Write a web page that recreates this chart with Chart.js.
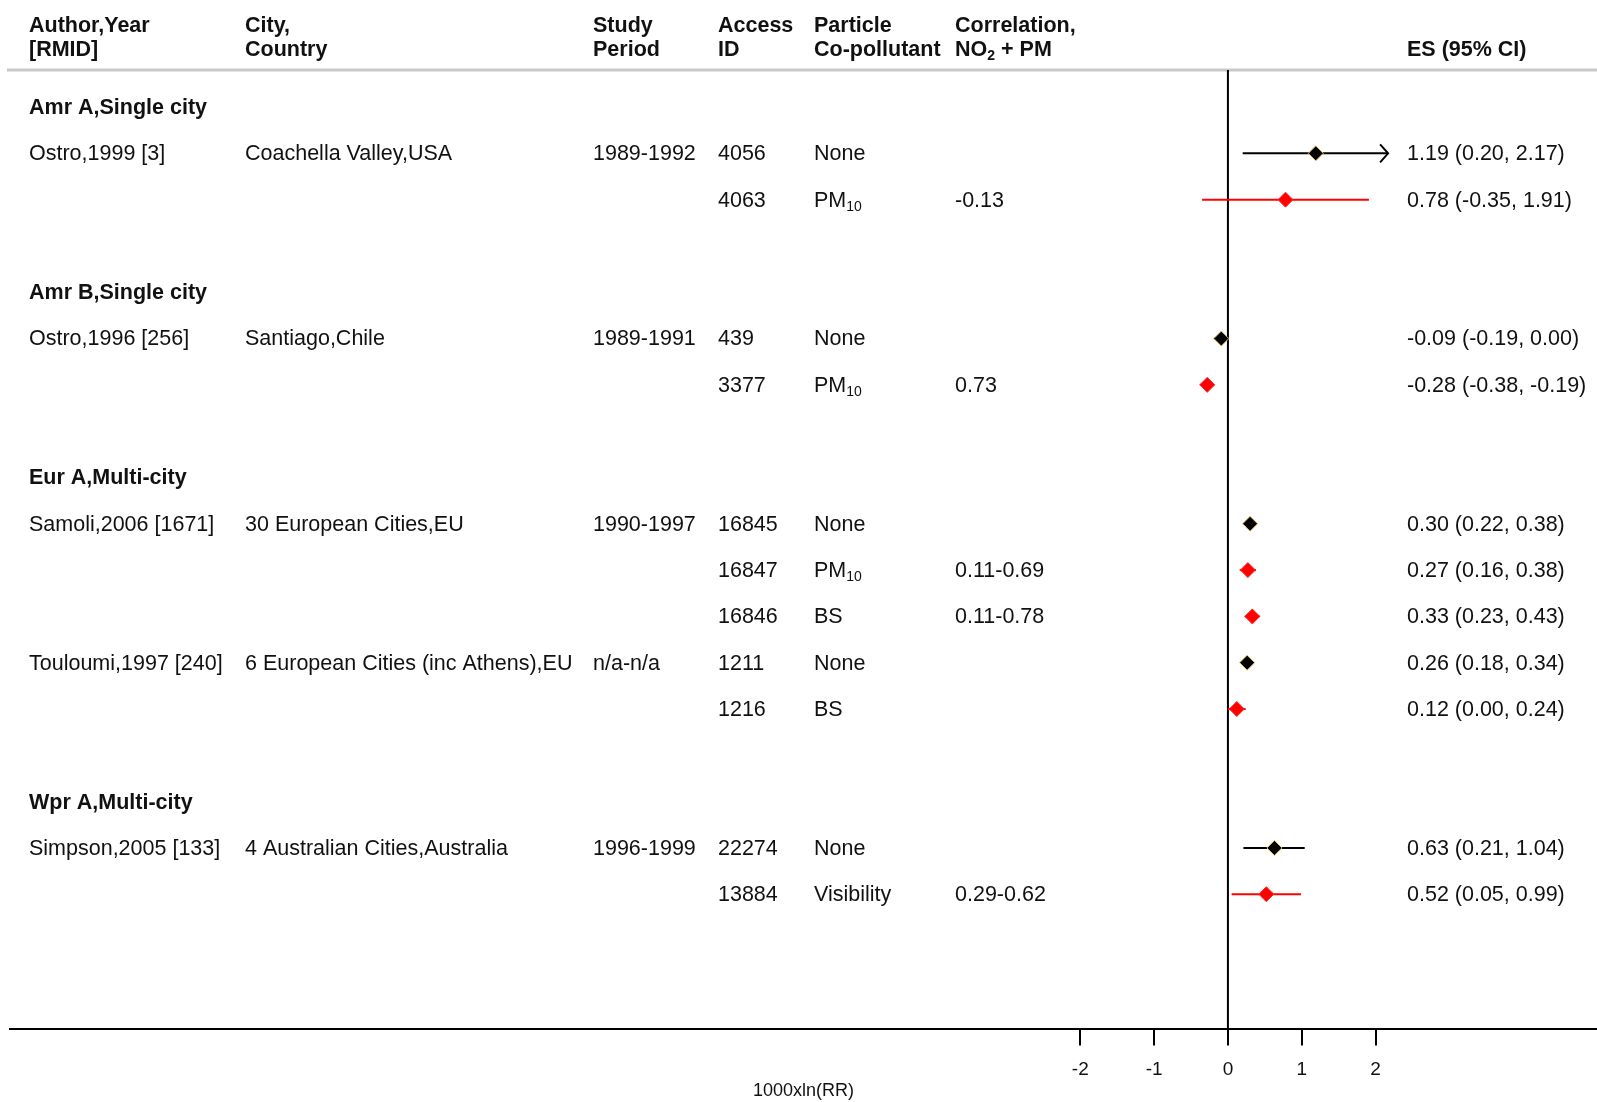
<!DOCTYPE html>
<html>
<head>
<meta charset="utf-8">
<title>Forest plot: NO2 effect estimates with and without particle co-pollutant</title>
<script src="https://cdn.jsdelivr.net/npm/chart.js@4.4.1/dist/chart.umd.min.js"></script>
<style>
  html, body { margin: 0; padding: 0; background: #fff; }
  canvas { display: block; }
</style>
</head>
<body>
<canvas id="forest" width="1597" height="1102"></canvas>
<script>
const FONT = "'Liberation Sans', Arial, Helvetica, sans-serif";

// Column headings (two lines each); "_{..}" marks a subscript
const headLine1 = ['Author,Year', 'City,', 'Study', 'Access', 'Particle', 'Correlation,', ''];
const headLine2 = ['[RMID]', 'Country', 'Period', 'ID', 'Co-pollutant', 'NO_{2} + PM', 'ES (95% CI)'];

// Region groups and the row each heading sits on
const groupNames = ['Amr A,Single city', 'Amr B,Single city', 'Eur A,Multi-city', 'Wpr A,Multi-city'];
const groupRows = [0, 4, 8, 15];

// One entry per estimate
const estRows = [1, 2, 5, 6, 9, 10, 11, 12, 13, 16, 17];
const authors = ['Ostro,1999 [3]', '', 'Ostro,1996 [256]', '', 'Samoli,2006 [1671]', '', '', 'Touloumi,1997 [240]', '', 'Simpson,2005 [133]', ''];
const cities = ['Coachella Valley,USA', '', 'Santiago,Chile', '', '30 European Cities,EU', '', '', '6 European Cities (inc Athens),EU', '', '4 Australian Cities,Australia', ''];
const periods = ['1989-1992', '', '1989-1991', '', '1990-1997', '', '', 'n/a-n/a', '', '1996-1999', ''];
const accessIds = ['4056', '4063', '439', '3377', '16845', '16847', '16846', '1211', '1216', '22274', '13884'];
const copollutants = ['None', 'PM_{10}', 'None', 'PM_{10}', 'None', 'PM_{10}', 'BS', 'None', 'BS', 'None', 'Visibility'];
const correlations = ['', '-0.13', '', '0.73', '', '0.11-0.69', '0.11-0.78', '', '', '', '0.29-0.62'];
const es = [1.19, 0.78, -0.09, -0.28, 0.30, 0.27, 0.33, 0.26, 0.12, 0.63, 0.52];
const lower = [0.20, -0.35, -0.19, -0.38, 0.22, 0.16, 0.23, 0.18, 0.00, 0.21, 0.05];
const upper = [2.17, 1.91, 0.00, -0.19, 0.38, 0.38, 0.43, 0.34, 0.24, 1.04, 0.99];

// Axis
const xTicks = [-2, -1, 0, 1, 2];
const xCap = 2;          // intervals running past this get an arrow head
const axisTitle = '1000xln(RR)';

// Column x positions and text sizes
const colX = [29, 245, 593, 718, 814, 955, 1407];
const TEXT_SIZE = 21.5;

const isAdjusted = copollutants.map(c => c !== 'None');
const markColor = isAdjusted.map(a => a ? '#ff0000' : '#000000');
const markEdge = isAdjusted.map(a => a ? '#ff2a2a' : '#e3c060');
const esLabels = es.map((v, i) => `${v.toFixed(2)} (${lower[i].toFixed(2)}, ${upper[i].toFixed(2)})`);

function drawRich(ctx, str, x, y, size, weight) {
  const parts = str.split(/(_\{[^}]*\})/).filter(s => s.length);
  let cx = x;
  for (const p of parts) {
    if (p.startsWith('_{')) {
      const t = p.slice(2, -1);
      ctx.font = `${weight} ${Math.round(size * 0.66)}px ${FONT}`;
      ctx.fillText(t, cx, y + size * 0.3);
      cx += ctx.measureText(t).width;
    } else {
      ctx.font = `${weight} ${size}px ${FONT}`;
      ctx.fillText(p, cx, y);
      cx += ctx.measureText(p).width;
    }
  }
}

const forestDecor = {
  id: 'forestDecor',
  beforeDatasetsDraw(chart) {
    const { ctx, chartArea, scales: { x, y } } = chart;
    ctx.save();
    // header rule
    ctx.strokeStyle = '#c9c9c9';
    ctx.lineWidth = 3;
    ctx.beginPath();
    ctx.moveTo(7, chartArea.top);
    ctx.lineTo(chart.width, chartArea.top);
    ctx.stroke();
    // line of no effect
    const x0 = x.getPixelForValue(0);
    ctx.strokeStyle = '#000';
    ctx.lineWidth = 2;
    ctx.beginPath();
    ctx.moveTo(x0, chartArea.top);
    ctx.lineTo(x0, chartArea.bottom);
    ctx.stroke();
    // confidence intervals
    estRows.forEach((r, i) => {
      const py = y.getPixelForValue(r);
      const xl = x.getPixelForValue(lower[i]);
      const xu = x.getPixelForValue(upper[i]);
      ctx.strokeStyle = markColor[i];
      ctx.lineWidth = 2;
      ctx.beginPath();
      ctx.moveTo(xl, py);
      ctx.lineTo(xu, py);
      ctx.stroke();
      if (upper[i] > xCap) {
        ctx.beginPath();
        ctx.moveTo(xu - 8, py - 9);
        ctx.lineTo(xu, py);
        ctx.lineTo(xu - 8, py + 9);
        ctx.stroke();
      }
    });
    ctx.restore();
  },
  afterDraw(chart) {
    const { ctx, scales: { y } } = chart;
    ctx.save();
    ctx.fillStyle = '#111';
    ctx.textBaseline = 'middle';
    ctx.textAlign = 'left';
    // headings
    headLine1.forEach((t, c) => { if (t) drawRich(ctx, t, colX[c], 26, TEXT_SIZE, 'bold'); });
    headLine2.forEach((t, c) => { if (t) drawRich(ctx, t, colX[c], 50, TEXT_SIZE, 'bold'); });
    // group headings
    groupNames.forEach((g, k) => {
      drawRich(ctx, g, colX[0], y.getPixelForValue(groupRows[k]) + 1, TEXT_SIZE, 'bold');
    });
    // estimate rows
    estRows.forEach((r, i) => {
      const py = y.getPixelForValue(r) + 1;
      const cells = [authors[i], cities[i], periods[i], accessIds[i], copollutants[i], correlations[i], esLabels[i]];
      cells.forEach((t, c) => { if (t) drawRich(ctx, t, colX[c], py, TEXT_SIZE, 'normal'); });
    });
    ctx.restore();
  }
};

new Chart(document.getElementById('forest'), {
  type: 'scatter',
  data: {
    datasets: [{
      data: es.map((v, i) => ({ x: v, y: estRows[i] })),
      pointStyle: 'rectRot',
      pointRadius: 7.5,
      backgroundColor: markColor,
      borderColor: markEdge,
      borderWidth: 1,
      showLine: false
    }]
  },
  options: {
    responsive: false,
    animation: false,
    events: [],
    devicePixelRatio: 1,
    layout: { autoPadding: false, padding: { left: 10, right: 0, top: 70, bottom: 0 } },
    plugins: { legend: { display: false }, tooltip: { enabled: false } },
    scales: {
      x: {
        type: 'linear',
        position: 'bottom',
        min: -16.5,
        max: 5,
        afterBuildTicks: s => { s.ticks = xTicks.map(v => ({ value: v })); },
        afterFit: s => { s.height = 73.5; },
        grid: { drawOnChartArea: false, drawTicks: true, tickLength: 17, color: '#000', lineWidth: 2 },
        border: { display: true, color: '#000', width: 2 },
        ticks: { padding: 13, color: '#111', font: { family: FONT, size: 19 }, autoSkip: false, maxRotation: 0 },
        title: { display: true, text: axisTitle, color: '#111', font: { family: FONT, size: 18 }, padding: { top: 0, bottom: 0 } }
      },
      y: { type: 'linear', reverse: true, min: -0.8, max: 19.9, display: false }
    }
  },
  plugins: [forestDecor]
});
</script>
</body>
</html>
